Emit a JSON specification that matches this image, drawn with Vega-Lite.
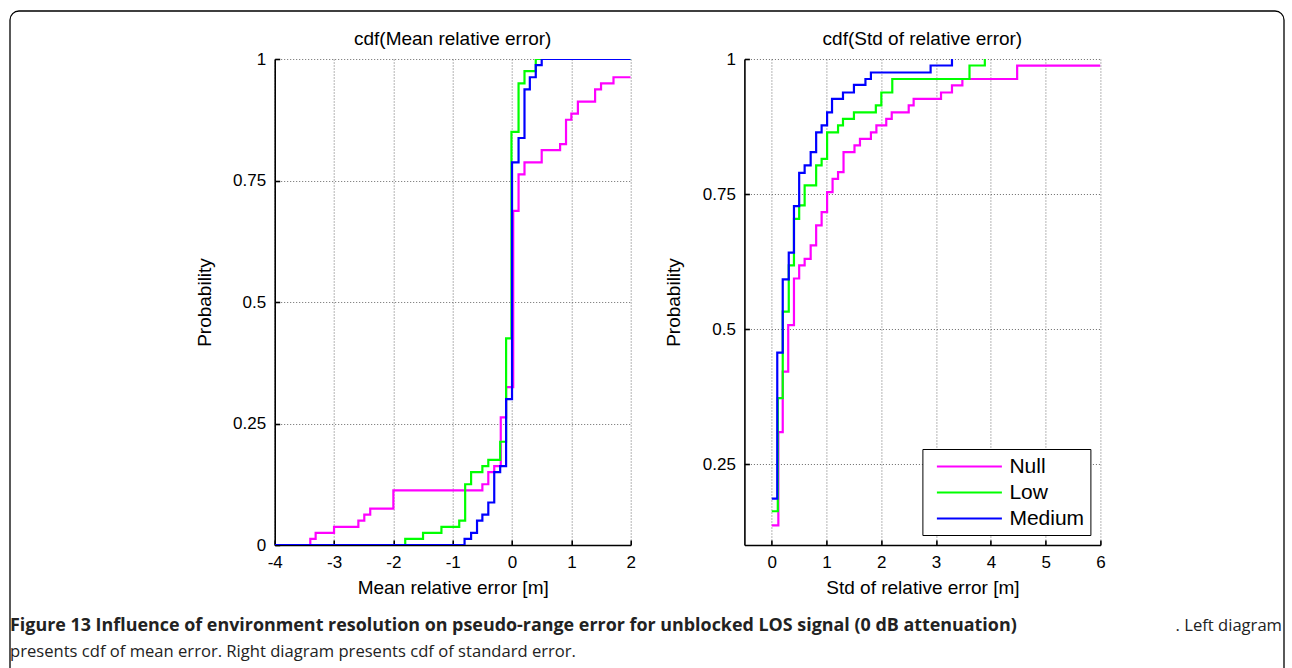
{
  "$schema": "https://vega.github.io/schema/vega-lite/v6.json",
  "padding": {"left": 9, "top": 10, "right": 0, "bottom": 0},
  "background": "white",
  "datasets": {
    "mean": [
      {"series": "Null", "x": -4, "y": 0}, {"series": "Null", "x": -3.40, "y": 0.0125}, {"series": "Null", "x": -3.31, "y": 0.025},
      {"series": "Null", "x": -3.00, "y": 0.0375}, {"series": "Null", "x": -2.59, "y": 0.05}, {"series": "Null", "x": -2.49, "y": 0.0625},
      {"series": "Null", "x": -2.39, "y": 0.075}, {"series": "Null", "x": -2.00, "y": 0.1125}, {"series": "Null", "x": -0.50, "y": 0.125},
      {"series": "Null", "x": -0.40, "y": 0.15}, {"series": "Null", "x": -0.30, "y": 0.1625}, {"series": "Null", "x": -0.19, "y": 0.2625},
      {"series": "Null", "x": -0.10, "y": 0.325}, {"series": "Null", "x": 0.02, "y": 0.6875}, {"series": "Null", "x": 0.11, "y": 0.7625},
      {"series": "Null", "x": 0.21, "y": 0.7875}, {"series": "Null", "x": 0.50, "y": 0.8125}, {"series": "Null", "x": 0.81, "y": 0.825},
      {"series": "Null", "x": 0.91, "y": 0.875}, {"series": "Null", "x": 1.00, "y": 0.8875}, {"series": "Null", "x": 1.11, "y": 0.9125},
      {"series": "Null", "x": 1.40, "y": 0.9375}, {"series": "Null", "x": 1.50, "y": 0.95}, {"series": "Null", "x": 1.71, "y": 0.9625},
      {"series": "Null", "x": 2.0, "y": 0.9625},
      {"series": "Low", "x": -4, "y": 0}, {"series": "Low", "x": -1.80, "y": 0.0125}, {"series": "Low", "x": -1.50, "y": 0.025},
      {"series": "Low", "x": -1.19, "y": 0.0375}, {"series": "Low", "x": -0.89, "y": 0.05}, {"series": "Low", "x": -0.79, "y": 0.125},
      {"series": "Low", "x": -0.69, "y": 0.15}, {"series": "Low", "x": -0.50, "y": 0.1625}, {"series": "Low", "x": -0.40, "y": 0.175},
      {"series": "Low", "x": -0.20, "y": 0.2125}, {"series": "Low", "x": -0.10, "y": 0.425}, {"series": "Low", "x": -0.01, "y": 0.85},
      {"series": "Low", "x": 0.11, "y": 0.95}, {"series": "Low", "x": 0.21, "y": 0.975}, {"series": "Low", "x": 0.40, "y": 1.0},
      {"series": "Low", "x": 2.0, "y": 1.0},
      {"series": "Medium", "x": -4, "y": 0}, {"series": "Medium", "x": -0.80, "y": 0.0125}, {"series": "Medium", "x": -0.69, "y": 0.025},
      {"series": "Medium", "x": -0.59, "y": 0.05}, {"series": "Medium", "x": -0.50, "y": 0.0625}, {"series": "Medium", "x": -0.40, "y": 0.0875},
      {"series": "Medium", "x": -0.30, "y": 0.15}, {"series": "Medium", "x": -0.20, "y": 0.1625}, {"series": "Medium", "x": -0.10, "y": 0.3},
      {"series": "Medium", "x": 0.0, "y": 0.7875}, {"series": "Medium", "x": 0.11, "y": 0.8375}, {"series": "Medium", "x": 0.21, "y": 0.9375},
      {"series": "Medium", "x": 0.30, "y": 0.9625}, {"series": "Medium", "x": 0.40, "y": 0.9875}, {"series": "Medium", "x": 0.50, "y": 1.0},
      {"series": "Medium", "x": 2.0, "y": 1.0}
    ],
    "std": [
      {"series": "Null", "x": 0, "y": 0.1364}, {"series": "Null", "x": 0.12, "y": 0.309}, {"series": "Null", "x": 0.20, "y": 0.421},
      {"series": "Null", "x": 0.30, "y": 0.507}, {"series": "Null", "x": 0.405, "y": 0.5935}, {"series": "Null", "x": 0.50, "y": 0.618},
      {"series": "Null", "x": 0.60, "y": 0.630}, {"series": "Null", "x": 0.71, "y": 0.655}, {"series": "Null", "x": 0.81, "y": 0.692},
      {"series": "Null", "x": 0.91, "y": 0.7166}, {"series": "Null", "x": 1.01, "y": 0.7535}, {"series": "Null", "x": 1.11, "y": 0.778},
      {"series": "Null", "x": 1.21, "y": 0.7905}, {"series": "Null", "x": 1.31, "y": 0.8275}, {"series": "Null", "x": 1.51, "y": 0.84},
      {"series": "Null", "x": 1.61, "y": 0.852}, {"series": "Null", "x": 1.81, "y": 0.864}, {"series": "Null", "x": 1.91, "y": 0.877},
      {"series": "Null", "x": 2.09, "y": 0.889}, {"series": "Null", "x": 2.19, "y": 0.901}, {"series": "Null", "x": 2.50, "y": 0.914},
      {"series": "Null", "x": 2.59, "y": 0.926}, {"series": "Null", "x": 3.09, "y": 0.938}, {"series": "Null", "x": 3.29, "y": 0.951},
      {"series": "Null", "x": 3.48, "y": 0.963}, {"series": "Null", "x": 4.48, "y": 0.9876}, {"series": "Null", "x": 6.0, "y": 0.9876},
      {"series": "Low", "x": 0, "y": 0.1625}, {"series": "Low", "x": 0.11, "y": 0.372}, {"series": "Low", "x": 0.20, "y": 0.532},
      {"series": "Low", "x": 0.31, "y": 0.618}, {"series": "Low", "x": 0.405, "y": 0.704}, {"series": "Low", "x": 0.50, "y": 0.729},
      {"series": "Low", "x": 0.60, "y": 0.766}, {"series": "Low", "x": 0.81, "y": 0.803}, {"series": "Low", "x": 0.91, "y": 0.815},
      {"series": "Low", "x": 1.01, "y": 0.864}, {"series": "Low", "x": 1.21, "y": 0.877}, {"series": "Low", "x": 1.30, "y": 0.889},
      {"series": "Low", "x": 1.50, "y": 0.901}, {"series": "Low", "x": 1.90, "y": 0.914}, {"series": "Low", "x": 2.00, "y": 0.938},
      {"series": "Low", "x": 2.20, "y": 0.963}, {"series": "Low", "x": 3.61, "y": 0.988}, {"series": "Low", "x": 3.89, "y": 1.0},
      {"series": "Medium", "x": 0, "y": 0.1857}, {"series": "Medium", "x": 0.10, "y": 0.4564}, {"series": "Medium", "x": 0.20, "y": 0.592},
      {"series": "Medium", "x": 0.31, "y": 0.6415}, {"series": "Medium", "x": 0.405, "y": 0.7277}, {"series": "Medium", "x": 0.50, "y": 0.789},
      {"series": "Medium", "x": 0.60, "y": 0.803}, {"series": "Medium", "x": 0.71, "y": 0.8275}, {"series": "Medium", "x": 0.81, "y": 0.864},
      {"series": "Medium", "x": 0.91, "y": 0.877}, {"series": "Medium", "x": 1.01, "y": 0.901}, {"series": "Medium", "x": 1.10, "y": 0.926},
      {"series": "Medium", "x": 1.30, "y": 0.938}, {"series": "Medium", "x": 1.50, "y": 0.952}, {"series": "Medium", "x": 1.71, "y": 0.963},
      {"series": "Medium", "x": 1.81, "y": 0.975}, {"series": "Medium", "x": 2.90, "y": 0.988}, {"series": "Medium", "x": 3.29, "y": 1.0}
    ],
    "caption": [
      {"line": 1, "side": "left", "style": "bold", "text": "Figure 13 Influence of environment resolution on pseudo-range error for unblocked LOS signal (0 dB attenuation)"},
      {"line": 1, "side": "right", "style": "tail", "text": ". Left diagram"},
      {"line": 2, "side": "left", "style": "plain", "text": "presents cdf of mean error. Right diagram presents cdf of standard error."}
    ]
  },
  "config": {
    "view": {"stroke": null},
    "font": "Liberation Sans",
    "axis": {
      "domainColor": "black", "domainWidth": 1.6,
      "tickColor": "black", "tickWidth": 1.6, "tickSize": -5,
      "labelFont": "Liberation Sans", "labelFontSize": 17, "labelColor": "black", "labelPadding": 14,
      "labelFlush": false, "labelOverlap": false,
      "titleFont": "Liberation Sans", "titleFontSize": 19, "titleFontWeight": "normal", "titleColor": "black",
      "grid": true, "gridColor": "#6a6a6a", "gridDash": [1, 2], "gridWidth": 1, "gridOpacity": 1
    },
    "axisX": {"titlePadding": 8},
    "axisY": {"titlePadding": 18.5},
    "title": {"font": "Liberation Sans", "fontSize": 19, "fontWeight": "normal", "color": "black", "offset": 1}
  },
  "columns": 1,
  "align": "none",
  "spacing": -662,
  "resolve": {"scale": {"color": "independent"}, "legend": {"color": "independent"}},
  "concat": [
    {
      "width": 1274, "height": 680,
      "data": {"values": [{"frame": 1}]},
      "mark": {"type": "rect", "filled": false, "stroke": "black", "strokeWidth": 1.3, "cornerRadius": 9},
      "encoding": {}
    },
    {
      "spacing": 16,
      "resolve": {"scale": {"color": "independent"}, "legend": {"color": "independent"}},
      "vconcat": [
        {
          "spacing": 28.7,
          "resolve": {"scale": {"color": "independent"}, "legend": {"color": "independent"}},
          "hconcat": [
            {"width": 156, "height": 10, "data": {"values": []}, "mark": "point"},
            {
              "width": 356, "height": 486,
              "title": "cdf(Mean relative error)",
              "data": {"name": "mean"},
              "mark": {"type": "line", "interpolate": "step-after", "strokeWidth": 2.2, "clip": true},
              "encoding": {
                "x": {"field": "x", "type": "quantitative", "scale": {"domain": [-4, 2], "nice": false, "zero": false},
                      "axis": {"title": "Mean relative error [m]", "values": [-4, -3, -2, -1, 0, 1, 2], "labelExpr": "'' + datum.value"}},
                "y": {"field": "y", "type": "quantitative", "scale": {"domain": [0, 1], "nice": false},
                      "axis": {"title": "Probability", "values": [0, 0.25, 0.5, 0.75, 1], "labelExpr": "'' + datum.value"}},
                "color": {"field": "series", "type": "nominal",
                          "scale": {"domain": ["Null", "Low", "Medium"], "range": ["#ff00ff", "#00ff00", "#0000ff"]},
                          "legend": null}
              }
            },
            {
              "width": 356, "height": 486,
              "title": "cdf(Std of relative error)",
              "data": {"name": "std"},
              "mark": {"type": "line", "interpolate": "step-after", "strokeWidth": 2.2, "clip": true},
              "encoding": {
                "x": {"field": "x", "type": "quantitative", "scale": {"domain": [-0.5, 6], "nice": false, "zero": false},
                      "axis": {"title": "Std of relative error [m]", "values": [0, 1, 2, 3, 4, 5, 6], "labelExpr": "'' + datum.value"}},
                "y": {"field": "y", "type": "quantitative", "scale": {"domain": [0.1, 1], "nice": false, "zero": false},
                      "axis": {"title": "Probability", "values": [0.25, 0.5, 0.75, 1], "labelExpr": "'' + datum.value"}},
                "color": {"field": "series", "type": "nominal",
                          "scale": {"domain": ["Null", "Low", "Medium"], "range": ["#ff00ff", "#00ff00", "#0000ff"]},
                          "legend": {
                            "title": null, "orient": "bottom-right", "offset": 10,
                            "strokeColor": "black", "fillColor": "white", "padding": 6,
                            "symbolType": "M-3.25,0H3.25", "symbolSize": 400, "symbolStrokeWidth": 2.2,
                            "symbolOffset": 29.5, "labelOffset": 28.5,
                            "labelFont": "Liberation Sans", "labelFontSize": 21, "labelColor": "black",
                            "rowPadding": 4
                          }}
              }
            }
          ]
        },
        {
          "width": 1272, "height": 52,
          "data": {"name": "caption"},
          "encoding": {
            "x": {"field": "side", "type": "nominal", "scale": {"type": "point", "domain": ["left", "right"], "padding": 0}, "axis": null},
            "y": {"field": "line", "type": "ordinal", "scale": {"type": "point", "padding": 0.5}, "axis": null},
            "text": {"field": "text"}
          },
          "layer": [
            {"transform": [{"filter": "datum.style == 'bold'"}],
             "mark": {"type": "text", "align": "left", "baseline": "middle", "font": "Open Sans", "fontWeight": "bold", "fontSize": 17.9, "color": "#222"}},
            {"transform": [{"filter": "datum.style == 'tail'"}],
             "mark": {"type": "text", "align": "right", "baseline": "middle", "font": "Open Sans", "fontSize": 16.6, "color": "#222"}},
            {"transform": [{"filter": "datum.style == 'plain'"}],
             "mark": {"type": "text", "align": "left", "baseline": "middle", "font": "Open Sans", "fontSize": 16.6, "color": "#222"}}
          ]
        }
      ]
    }
  ]
}
